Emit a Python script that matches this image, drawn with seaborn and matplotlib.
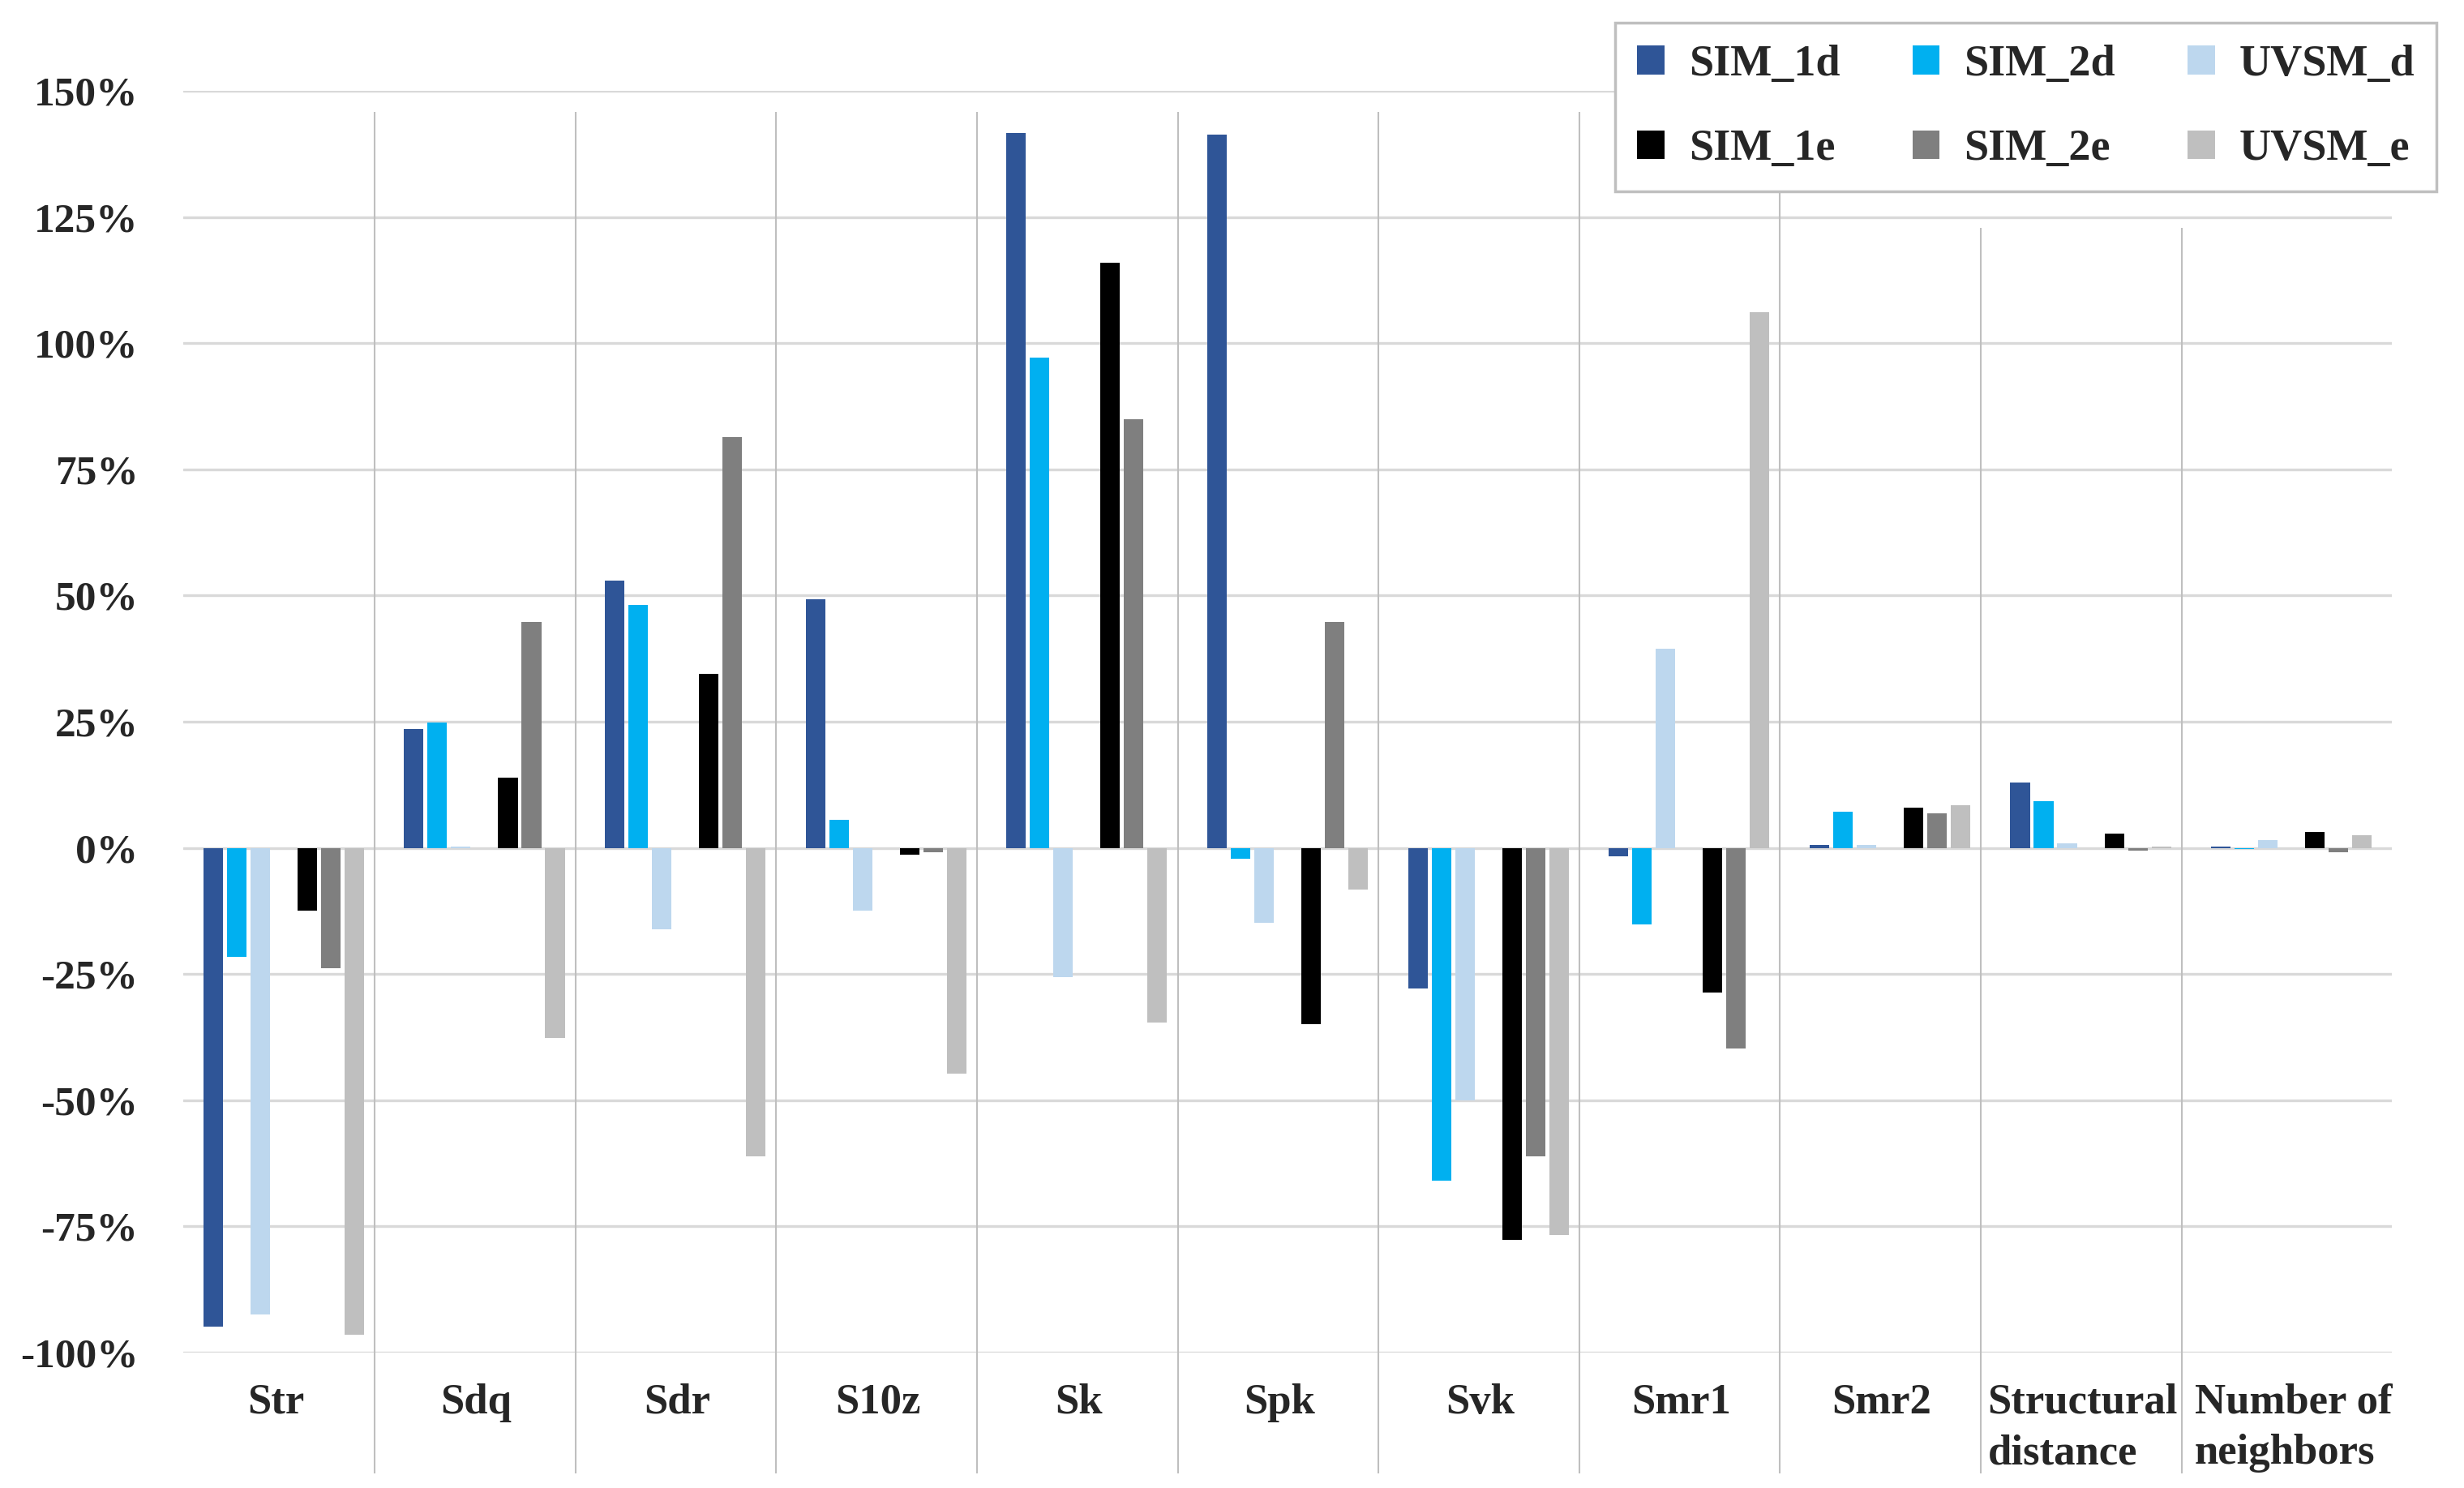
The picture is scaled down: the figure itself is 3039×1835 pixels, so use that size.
import pandas as pd
import numpy as np
import matplotlib
matplotlib.use("Agg")
import matplotlib.pyplot as plt
import seaborn as sns
from matplotlib.patches import Patch

# categories on the x axis
categories = ['Str', 'Sdq', 'Sdr', 'S10z', 'Sk', 'Spk', 'Svk', 'Smr1', 'Smr2',
              'Structural\ndistance', 'Number of\nneighbors']

# relative change in %
sim_1d = [-94.9, 23.5, 53.0, 49.2, 141.7, 141.4, -27.8, -1.7, 0.6, 13.0, 0.3]
sim_2d = [-21.6, 24.8, 48.1, 5.6, 97.2, -2.1, -66.0, -15.2, 7.2, 9.3, -0.2]
uvsm_d = [-92.5, 0.2, -16.2, -12.4, -25.6, -14.8, -50.0, 39.5, 0.6, 0.9, 1.6]
sim_1e = [-12.4, 13.9, 34.4, -1.3, 116.0, -35.0, -77.6, -28.6, 8.0, 2.8, 3.2]
sim_2e = [-23.9, 44.7, 81.4, -0.9, 85.0, 44.7, -61.1, -39.7, 6.9, -0.5, -0.9]
uvsm_e = [-96.4, -37.6, -61.1, -44.7, -34.6, -8.3, -76.7, 106.2, 8.5, 0.3, 2.5]

series = {'SIM_1d': sim_1d, 'SIM_2d': sim_2d, 'UVSM_d': uvsm_d,
          'SIM_1e': sim_1e, 'SIM_2e': sim_2e, 'UVSM_e': uvsm_e}

colors = {'SIM_1d': '#2F5597', 'SIM_2d': '#00B0F0', 'UVSM_d': '#BDD7EE',
          'SIM_1e': '#000000', 'SIM_2e': '#7F7F7F', 'UVSM_e': '#BFBFBF',
          'gap': '#FFFFFF'}

yticks = [-100, -75, -50, -25, 0, 25, 50, 75, 100, 125, 150]

# long table for seaborn, an empty 'gap' group makes the space in the middle
rows = []
for name, vals in series.items():
    for cat, v in zip(categories, vals):
        rows.append({'cat': cat, 'series': name, 'value': v})
for cat in categories:
    rows.append({'cat': cat, 'series': 'gap', 'value': 0.0})
df = pd.DataFrame(rows)

hue_order = ['SIM_1d', 'SIM_2d', 'UVSM_d', 'gap', 'SIM_1e', 'SIM_2e', 'UVSM_e']

sns.set_style('white')
plt.rcParams['font.family'] = ['Liberation Serif', 'DejaVu Serif']
plt.rcParams['font.weight'] = 'bold'

fig = plt.figure(figsize=(30.39, 18.35), dpi=100)
ax = fig.add_axes([226 / 3039, 1 - 1668 / 1835, (2950 - 226) / 3039, (1668 - 112) / 1835])

sns.barplot(data=df, x='cat', y='value', hue='series', hue_order=hue_order,
            order=categories, palette=colors, saturation=1, width=0.82, gap=0.17,
            errorbar=None, legend=False, linewidth=0, ax=ax, zorder=3)

ax.set_xlim(-0.5, len(categories) - 0.5)
ax.set_ylim(-100, 150)
ax.set_yticks(yticks)
ax.set_yticklabels([f'{t}%' for t in yticks])
# labels sit centred between the separators, a bit left of the bar groups
tick_pos = np.arange(len(categories)) - 0.04
tick_pos[-1] += 0.05
ax.set_xticks(tick_pos)
ax.set_xticklabels(categories)
ax.set_xlabel('')
ax.set_ylabel('')

# horizontal grid
ax.yaxis.grid(True, color='#D9D9D9', linewidth=2.4, zorder=0)
ax.xaxis.grid(False)
ax.set_axisbelow(True)
for s in ax.spines.values():
    s.set_visible(False)

# vertical separators between the categories
seps = np.arange(len(categories) - 1) + 0.453
for x in seps:
    top = 145.8 if x < 7.5 else 122.8
    ax.vlines(x, -124, top, color='#BFBFBF', linewidth=1.5, clip_on=False, zorder=1)

ax.tick_params(axis='y', length=0, pad=40, labelsize=37)
ax.tick_params(axis='x', length=0, pad=27, labelsize=38)
for lab in ax.get_xticklabels():
    lab.set_linespacing(1.4)
    lab.set_multialignment('left')

handles = [Patch(facecolor=colors[n], edgecolor='none', label=n) for n in
           ['SIM_1d', 'SIM_1e', 'SIM_2d', 'SIM_2e', 'UVSM_d', 'UVSM_e']]
leg = fig.legend(handles=handles, ncol=3, loc='upper right',
                 bbox_to_anchor=(3005 / 3039, 1 - 28 / 1835),
                 fontsize=39, frameon=True, fancybox=False,
                 handlelength=0.62, handleheight=0.62, handletextpad=0.55,
                 columnspacing=1.65, labelspacing=1.0, borderpad=0.5,
                 borderaxespad=0)
leg.get_frame().set_edgecolor('#BFBFBF')
leg.get_frame().set_linewidth(2.5)
leg.get_frame().set_facecolor('white')
leg.get_frame().set_alpha(1)
leg.set_zorder(10)

fig.savefig('out.png', dpi=100, facecolor='white')
